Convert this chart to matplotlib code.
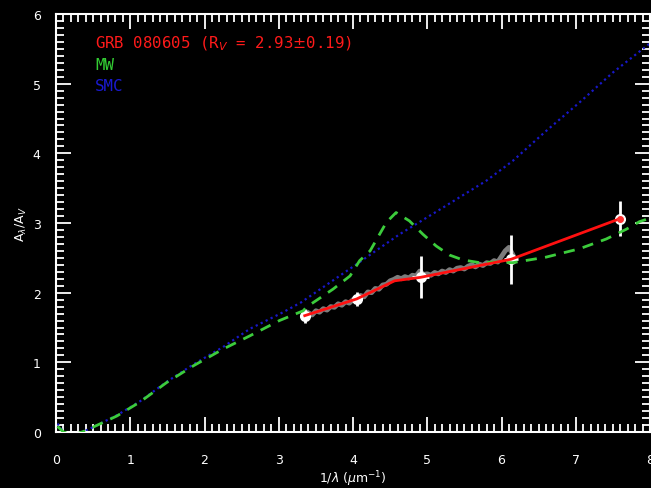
import numpy as np
import matplotlib
matplotlib.use('Agg')
from matplotlib import pyplot as plt
from matplotlib.ticker import MultipleLocator

# MW extinction curve (A_lambda / A_V against 1/lambda)
mw_x = [0.02, 0.10, 0.20, 0.30, 0.40, 0.50, 0.82, 1.13, 1.49, 1.85, 2.25, 2.61, 3.01, 3.33,
        3.37, 3.73, 3.96, 4.09, 4.23, 4.45, 4.58, 4.76, 4.94, 5.12, 5.30, 5.48, 5.71, 5.93,
        6.15, 6.60, 7.05, 7.41, 7.68, 7.86, 8.00]
mw_y = [0.08, 0.00, -0.03, -0.02, 0.02, 0.07, 0.23, 0.43, 0.71, 0.95, 1.19, 1.38, 1.60, 1.74,
        1.79, 2.05, 2.24, 2.46, 2.60, 3.01, 3.15, 3.03, 2.84, 2.67, 2.54, 2.47, 2.43, 2.44,
        2.43, 2.51, 2.63, 2.77, 2.91, 3.02, 3.07]

# SMC extinction curve
smc_x = [0.02, 0.10, 0.20, 0.30, 0.40, 0.50, 0.82, 1.13, 1.49, 1.85, 2.25, 2.61, 3.06, 3.30,
         4.05, 4.63, 5.21, 5.80, 6.15, 6.60, 7.05, 7.50, 8.00]
smc_y = [0.12, 0.00, -0.03, -0.02, 0.02, 0.07, 0.24, 0.44, 0.72, 0.97, 1.22, 1.48, 1.72, 1.86,
         2.41, 2.84, 3.22, 3.61, 3.89, 4.32, 4.73, 5.16, 5.58]

# GRB 080605 spectrum
spec_x = [3.40, 3.45, 3.50, 3.55, 3.60, 3.65, 3.70, 3.75, 3.80, 3.85, 3.90, 3.95, 4.00, 4.05,
          4.10, 4.15, 4.20, 4.25, 4.30, 4.35, 4.40, 4.45, 4.50, 4.55, 4.60, 4.65, 4.70, 4.75,
          4.80, 4.85, 4.90, 4.95, 5.00, 5.05, 5.10, 5.15, 5.20, 5.25, 5.30, 5.35, 5.40, 5.45,
          5.50, 5.55, 5.60, 5.65, 5.70, 5.75, 5.80, 5.85, 5.90, 5.95, 6.00, 6.05, 6.10, 6.15]
spec_y = [1.71, 1.68, 1.74, 1.72, 1.77, 1.75, 1.80, 1.79, 1.84, 1.82, 1.87, 1.85, 1.90, 1.93,
          1.96, 1.94, 2.01, 2.00, 2.06, 2.05, 2.11, 2.12, 2.17, 2.19, 2.22, 2.20, 2.23, 2.21,
          2.25, 2.24, 2.31, 2.26, 2.27, 2.25, 2.29, 2.27, 2.31, 2.29, 2.33, 2.31, 2.35, 2.36,
          2.34, 2.38, 2.40, 2.37, 2.41, 2.39, 2.43, 2.42, 2.46, 2.44, 2.52, 2.60, 2.65, 2.55]

# photometric points
phot_x = [3.35, 4.05, 4.91, 6.13, 7.59]
phot_y = [1.67, 1.91, 2.22, 2.48, 3.06]
phot_xerr = [0.04, 0.03, 0.12, 0.09, 0.04]
phot_yerr = [0.10, 0.10, 0.30, 0.35, 0.25]

# best fit model
fit_x = [3.35, 4.05, 4.56, 4.91, 6.13, 7.59]
fit_y = [1.67, 1.91, 2.17, 2.22, 2.48, 3.06]

fig = plt.figure(figsize=(6.51, 4.89), dpi=100, facecolor='black')
ax = fig.add_axes([56/651, 56/489, 594/651, 418/489], facecolor='black')

ax.plot(smc_x, smc_y, color='#1818c8', lw=1.6, ls=(0, (1, 1.5)), zorder=2)
ax.plot(spec_x, spec_y, color='#7c7c7c', lw=3.5, zorder=3)
ax.errorbar(phot_x, phot_y, xerr=phot_xerr, yerr=phot_yerr, fmt='o', color='white',
            ms=7, elinewidth=2, capsize=0, zorder=4)
ax.plot(mw_x, mw_y, color='#3ccc3c', lw=2, ls=(0, (4, 3)), zorder=5)
ax.plot(fit_x, fit_y, color='#ff1010', lw=2, zorder=6)
ax.plot(fit_x[-1], fit_y[-1], 'o', color='#ff3030', ms=4, zorder=7)

ax.set_xlim(0, 8)
ax.set_ylim(0, 6)
ax.xaxis.set_major_locator(MultipleLocator(1))
ax.xaxis.set_minor_locator(MultipleLocator(0.1))
ax.yaxis.set_major_locator(MultipleLocator(1))
ax.yaxis.set_minor_locator(MultipleLocator(0.1))
ax.tick_params(which='both', direction='in', colors='white', top=True, right=True,
               labelsize=9, width=1.3)
ax.tick_params(which='major', length=11)
ax.tick_params(which='minor', length=6)
ax.tick_params(axis='x', which='major', pad=15)
ax.tick_params(axis='y', which='major', pad=11)
for s in ax.spines.values():
    s.set_color('white')
    s.set_linewidth(1.5)

ax.set_xlabel(r'1/$\lambda$ ($\mu$m$^{-1}$)', color='white', fontsize=9, va='center')
ax.xaxis.set_label_coords(0.5, -0.11)
ax.set_ylabel(r'A$_\lambda$/A$_V$', color='white', fontsize=9, labelpad=3)

tf = dict(transform=ax.transAxes, family='DejaVu Sans Mono', fontsize=11.3, va='center')
ax.text(0.066, 0.930, r'GRB 080605 (R$_V$ = 2.93$\pm$0.19)', color='#ff1a1a', **tf)
ax.text(0.066, 0.880, 'MW', color='#33cc33', **tf)
ax.text(0.066, 0.830, 'SMC', color='#1a1ad0', **tf)

fig.savefig('out.png', dpi=100, facecolor='black')
